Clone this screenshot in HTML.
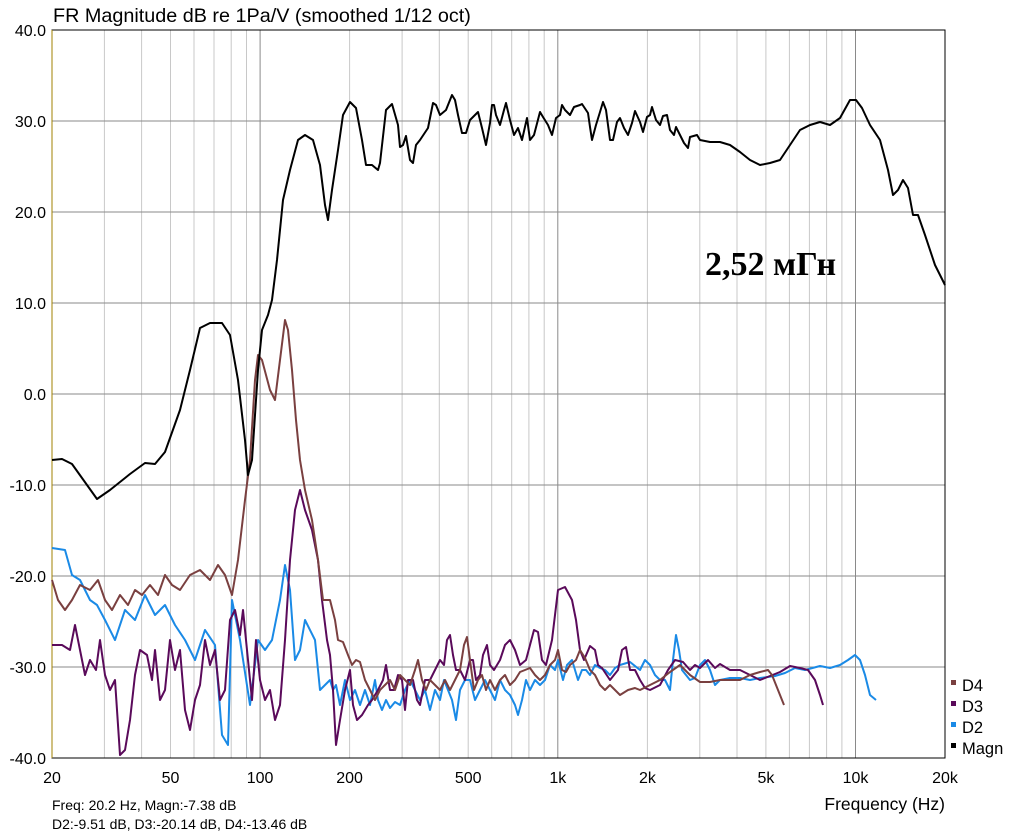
<!DOCTYPE html>
<html><head><meta charset="utf-8"><style>
body{margin:0;background:#fff;}
svg{display:block;font-family:"Liberation Sans",sans-serif;}
</style></head><body>
<svg width="1013" height="838" viewBox="0 0 1013 838" xmlns="http://www.w3.org/2000/svg">
<rect width="1013" height="838" fill="#fff"/>
<g stroke="#c8c8c8" stroke-width="1">
<line x1="104.4" y1="30" x2="104.4" y2="758"/><line x1="141.6" y1="30" x2="141.6" y2="758"/><line x1="170.5" y1="30" x2="170.5" y2="758"/><line x1="194" y1="30" x2="194" y2="758"/><line x1="214" y1="30" x2="214" y2="758"/><line x1="231.2" y1="30" x2="231.2" y2="758"/><line x1="246.5" y1="30" x2="246.5" y2="758"/>
<line x1="349.6" y1="30" x2="349.6" y2="758"/><line x1="402.1" y1="30" x2="402.1" y2="758"/><line x1="439.3" y1="30" x2="439.3" y2="758"/><line x1="468.2" y1="30" x2="468.2" y2="758"/><line x1="491.7" y1="30" x2="491.7" y2="758"/><line x1="511.7" y1="30" x2="511.7" y2="758"/><line x1="528.9" y1="30" x2="528.9" y2="758"/><line x1="544.2" y1="30" x2="544.2" y2="758"/>
<line x1="647.4" y1="30" x2="647.4" y2="758"/><line x1="699.8" y1="30" x2="699.8" y2="758"/><line x1="737" y1="30" x2="737" y2="758"/><line x1="765.9" y1="30" x2="765.9" y2="758"/><line x1="789.4" y1="30" x2="789.4" y2="758"/><line x1="809.4" y1="30" x2="809.4" y2="758"/><line x1="826.6" y1="30" x2="826.6" y2="758"/><line x1="841.9" y1="30" x2="841.9" y2="758"/>
</g>
<g stroke="#8a8a8a" stroke-width="1">
<line x1="260.1" y1="30" x2="260.1" y2="758"/><line x1="557.8" y1="30" x2="557.8" y2="758"/><line x1="855.5" y1="30" x2="855.5" y2="758"/>
<line x1="52" y1="121" x2="945" y2="121"/><line x1="52" y1="212" x2="945" y2="212"/><line x1="52" y1="303" x2="945" y2="303"/><line x1="52" y1="394" x2="945" y2="394"/><line x1="52" y1="485" x2="945" y2="485"/><line x1="52" y1="576" x2="945" y2="576"/><line x1="52" y1="667" x2="945" y2="667"/>
</g>
<rect x="52" y="30" width="893" height="728" fill="none" stroke="#000" stroke-width="1"/>
<line x1="52" y1="30" x2="52" y2="758" stroke="#a08000" stroke-width="1"/>
<g fill="none" stroke-width="2" stroke-linejoin="round">
<polyline stroke="#1a8ae6" points="52,548 65,550 72,575 80,580 90,600 97,605 105,620 115,640 125,610 135,620 145,595 155,615 165,605 175,625 185,640 195,660 205,630 215,645 222,735 228,745 232,600 240,640 250,705 258,640 265,650 272,640 280,600 285,565 290,590 295,660 300,650 305,620 315,640 320,690 330,680 333,690 336,685 340,705 345,680 350,700 355,690 360,705 365,690 370,705 375,680 378,700 382,710 386,700 390,708 395,702 400,705 405,690 410,680 415,690 420,700 425,690 430,710 435,690 440,700 444,680 448,690 452,700 456,720 460,690 465,680 470,680 475,700 480,690 485,680 490,690 495,700 500,680 505,690 510,695 515,705 518,715 522,700 526,680 530,690 535,680 540,685 545,680 550,665 555,670 558,660 563,680 567,665 572,660 575,670 578,680 582,670 586,670 590,675 595,665 600,668 605,670 610,675 615,668 620,665 630,662 640,670 645,660 650,665 655,675 660,680 665,680 670,690 673,660 676,635 679,650 682,670 690,680 695,678 700,665 705,660 710,670 715,685 720,680 730,678 740,678 750,680 760,678 775,676 785,673 795,668 805,670 820,666 830,668 840,665 848,660 855,655 860,660 865,675 870,695 876,700"/>
<polyline stroke="#5a0a5a" points="52,645 62,645 70,650 75,625 80,650 85,675 90,660 96,670 100,640 105,675 110,690 115,680 120,755 125,750 130,720 135,675 140,650 147,655 152,680 155,650 160,700 165,690 170,640 175,670 180,650 185,710 190,730 195,700 200,685 205,640 210,665 215,650 220,700 225,690 230,620 235,610 240,635 243,610 248,660 252,700 256,640 260,680 265,700 270,690 275,720 280,705 285,640 290,560 295,510 300,490 305,510 312,530 318,560 322,600 327,640 330,655 333,690 336,745 340,720 345,690 350,670 353,705 357,720 362,715 368,705 372,700 378,690 383,680 386,665 390,690 394,690 398,675 402,680 405,710 408,680 413,680 417,700 420,705 425,680 430,680 435,670 440,660 444,665 447,640 450,635 453,655 456,670 460,670 465,680 470,660 473,660 476,680 480,675 483,655 487,645 490,665 494,670 500,660 505,645 510,640 515,650 520,665 526,660 530,645 534,630 538,632 542,660 546,665 552,640 558,590 565,587 572,600 576,620 580,650 584,660 590,646 595,650 598,665 602,668 610,680 618,670 622,650 626,647 630,670 635,670 640,680 645,688 650,690 660,685 668,670 675,660 683,662 690,670 695,665 700,668 708,660 715,668 720,664 730,670 740,670 750,675 760,680 770,676 780,672 790,666 800,668 808,670 815,680 820,695 823,705"/>
<polyline stroke="#7a4040" points="52,580 58,600 65,610 72,600 80,585 90,590 98,580 105,600 112,610 120,595 128,605 135,590 142,595 150,585 158,595 165,575 172,585 180,590 190,575 200,570 210,580 218,565 225,575 232,595 238,560 245,500 250,460 255,380 258,355 262,360 266,375 270,390 275,400 280,360 285,320 288,330 292,370 296,420 300,460 305,490 312,520 318,560 323,600 330,600 335,620 338,640 343,642 348,655 352,665 356,660 360,662 365,680 370,690 375,700 380,690 385,685 390,680 395,690 400,675 405,680 410,685 415,670 418,660 422,680 426,690 430,680 435,685 440,690 445,680 450,690 455,680 460,670 464,645 467,637 470,660 474,690 478,680 482,675 486,690 490,680 495,690 500,680 505,675 510,685 515,680 520,672 525,670 530,668 535,675 540,680 545,675 550,665 555,660 558,650 562,670 566,672 570,665 576,660 580,650 585,658 590,670 595,675 600,685 605,690 610,685 615,690 620,695 628,690 635,688 640,690 650,685 660,680 670,672 680,665 685,670 690,675 700,682 710,682 720,680 740,680 750,675 760,672 768,670 772,675 778,690 784,705"/>
<polyline stroke="#000" points="52,460 62,459 72,464 82,478 97,499 110,490 130,474 145,463 155,464 165,452 180,410 190,370 200,328 210,323 222,323 230,335 238,380 245,440 248,475 252,460 258,370 262,330 268,315 272,300 277,260 283,200 290,170 298,140 305,135 313,140 320,165 325,205 328,220 332,190 338,150 343,115 350,102 356,108 362,140 366,165 372,165 378,170 380,163 386,110 392,104 398,125 400,147 403,145 406,136 410,160 413,163 416,145 420,140 428,128 433,103 436,105 440,115 446,110 452,95 455,100 458,115 462,133 466,133 470,120 478,112 482,128 486,145 490,123 492,105 494,105 496,115 500,125 504,110 506,103 510,120 514,135 518,128 522,140 527,118 530,140 534,135 540,112 543,117 548,125 552,135 556,118 560,115 562,105 565,110 570,115 574,107 580,105 582,104 588,113 590,127 592,140 596,125 600,112 603,102 606,110 610,140 613,140 617,122 620,118 624,128 628,135 632,123 635,111 640,122 643,132 647,117 650,115 652,107 656,120 660,125 663,116 667,115 670,130 674,135 676,127 680,135 684,143 688,148 690,137 697,135 700,140 710,142 720,142 730,145 740,152 750,160 760,165 770,163 780,160 790,145 800,130 810,125 820,122 830,125 840,118 850,100 856,100 862,108 870,125 880,140 888,170 893,195 898,190 903,180 908,188 913,215 918,215 925,235 935,265 945,285"/>
</g>
<g font-size="16" fill="#000" text-anchor="end">
<text x="46" y="36">40.0</text><text x="46" y="127">30.0</text><text x="46" y="218">20.0</text><text x="46" y="309">10.0</text><text x="46" y="400">0.0</text><text x="46" y="491">-10.0</text><text x="46" y="582">-20.0</text><text x="46" y="673">-30.0</text><text x="46" y="764">-40.0</text>
</g>
<g font-size="16" fill="#000" text-anchor="middle">
<text x="52" y="783">20</text><text x="170.5" y="783">50</text><text x="260.1" y="783">100</text><text x="349.6" y="783">200</text><text x="468.2" y="783">500</text><text x="557.8" y="783">1k</text><text x="647.4" y="783">2k</text><text x="765.9" y="783">5k</text><text x="855.5" y="783">10k</text><text x="945" y="783">20k</text>
</g>
<text x="53" y="22" font-size="19.8">FR Magnitude dB re 1Pa/V (smoothed 1/12 oct)</text>
<text x="945" y="810" font-size="17.5" text-anchor="end">Frequency (Hz)</text>
<text x="52" y="810" font-size="14">Freq: 20.2 Hz, Magn:-7.38 dB</text>
<text x="52" y="829" font-size="14">D2:-9.51 dB, D3:-20.14 dB, D4:-13.46 dB</text>
<text x="705" y="275" font-size="34" font-weight="bold" font-family="Liberation Serif,serif">2,52 мГн</text>
<rect x="951" y="680" width="5" height="5" fill="#7a4040"/><text x="962" y="691" font-size="16.5">D4</text>
<rect x="951" y="701" width="5" height="5" fill="#5a0a5a"/><text x="962" y="712" font-size="16.5">D3</text>
<rect x="951" y="722" width="5" height="5" fill="#1a8ae6"/><text x="962" y="733" font-size="16.5">D2</text>
<rect x="951" y="743" width="5" height="5" fill="#000"/><text x="962" y="754" font-size="16.5">Magn</text>
</svg>
</body></html>
